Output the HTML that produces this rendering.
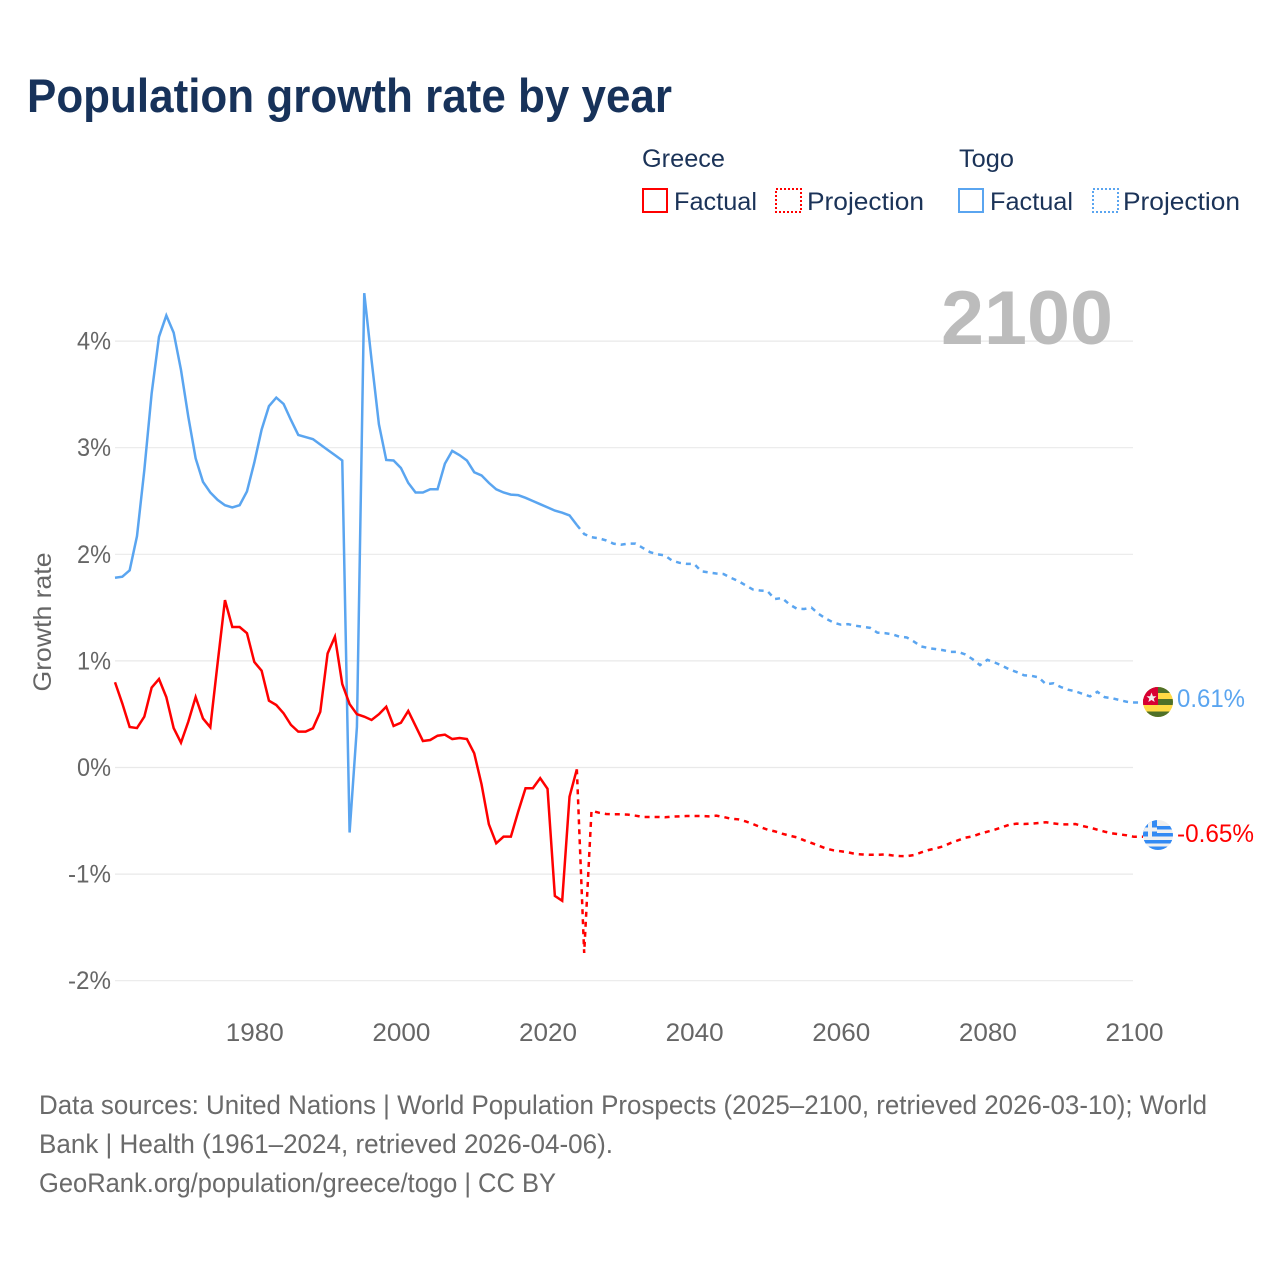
<!DOCTYPE html>
<html lang="en">
<head>
<meta charset="utf-8">
<title>Population growth rate by year</title>
<style>
html,body{margin:0;padding:0;background:#fff;width:1280px;height:1280px;overflow:hidden}
svg{display:block}
text{font-family:"Liberation Sans",sans-serif}
</style>
</head>
<body>
<svg id="chart" xmlns="http://www.w3.org/2000/svg" width="1280" height="1280" viewBox="0 0 1280 1280">
  <rect x="0" y="0" width="1280" height="1280" fill="#ffffff"/>
  <text x="27" y="112" font-size="47" font-weight="700" fill="#17325a" textLength="645" lengthAdjust="spacingAndGlyphs">Population growth rate by year</text>

  <g font-size="25" fill="#1b3358">
    <text x="642" y="167" textLength="83" lengthAdjust="spacingAndGlyphs">Greece</text>
    <text x="959" y="167" textLength="55" lengthAdjust="spacingAndGlyphs">Togo</text>
    <g>
      <rect x="643" y="189" width="24" height="23" fill="none" stroke="#ff0000" stroke-width="2"/>
      <text x="674" y="210" textLength="83" lengthAdjust="spacingAndGlyphs">Factual</text>
    </g>
    <g>
      <rect x="776" y="189" width="25" height="23" fill="none" stroke="#ff0000" stroke-width="2" stroke-dasharray="2 2"/>
      <text x="807" y="210" textLength="117" lengthAdjust="spacingAndGlyphs">Projection</text>
    </g>
    <g>
      <rect x="959" y="189" width="24" height="23" fill="none" stroke="#5aa5f0" stroke-width="2"/>
      <text x="990" y="210" textLength="83" lengthAdjust="spacingAndGlyphs">Factual</text>
    </g>
    <g>
      <rect x="1093" y="189" width="25" height="23" fill="none" stroke="#5aa5f0" stroke-width="2" stroke-dasharray="2 2"/>
      <text x="1123" y="210" textLength="117" lengthAdjust="spacingAndGlyphs">Projection</text>
    </g>
  </g>

  <g id="grid"></g>
  <g id="yticks" font-size="25" fill="#666666"></g>
  <g id="xticks" font-size="25" fill="#666666"></g>
  <text x="51" y="622" font-size="25" fill="#666666" text-anchor="middle" transform="rotate(-90 51 622)" textLength="139" lengthAdjust="spacingAndGlyphs">Growth rate</text>
  <text x="941" y="344" font-size="76" font-weight="700" fill="#bcbcbc" textLength="172" lengthAdjust="spacingAndGlyphs">2100</text>

  <g id="series"></g>

  <g transform="translate(1158 702)">
    <clipPath id="clip-togo"><circle cx="0" cy="0" r="15"/></clipPath>
    <g clip-path="url(#clip-togo)">
      <rect x="-15" y="-15" width="30" height="30" fill="#ffda44"/>
      <rect x="-15" y="-15" width="30" height="6" fill="#4f7028"/>
      <rect x="-15" y="-3" width="30" height="6" fill="#4f7028"/>
      <rect x="-15" y="9.5" width="30" height="6" fill="#4f7028"/>
      <rect x="-15" y="-15" width="15" height="18" fill="#d80033"/>
      <polygon points="-6.5,-9.5 -5.1,-5.8 -1.5,-5.8 -4.3,-3.4 -3.3,0 -6.5,-2 -9.7,0 -8.7,-3.4 -11.5,-5.8 -7.9,-5.8" fill="#f0f0f0"/>
    </g>
  </g>
  <g transform="translate(1158 835)">
    <clipPath id="clip-greece"><circle cx="0" cy="0" r="15"/></clipPath>
    <g clip-path="url(#clip-greece)">
      <rect x="-15" y="-15" width="30" height="30" fill="#f0f0f0"/>
      <rect x="-15" y="-9" width="30" height="3.5" fill="#338af3"/>
      <rect x="-15" y="-2" width="30" height="3.5" fill="#338af3"/>
      <rect x="-15" y="5" width="30" height="3.5" fill="#338af3"/>
      <rect x="-15" y="11.5" width="30" height="3.5" fill="#338af3"/>
      <rect x="-15" y="-15" width="14" height="16.5" fill="#338af3"/>
      <rect x="-10" y="-15" width="4" height="16.5" fill="#f0f0f0"/>
      <rect x="-15" y="-7.5" width="14" height="4" fill="#f0f0f0"/>
    </g>
  </g>
  <text id="label-togo" x="1177" y="707" font-size="25" fill="#5aa5f0" textLength="68" lengthAdjust="spacingAndGlyphs">0.61%</text>
  <text id="label-greece" x="1177" y="842" font-size="25" fill="#ff0000" textLength="77" lengthAdjust="spacingAndGlyphs">-0.65%</text>

  <g font-size="26.5" fill="#6a6a6a">
    <text x="39" y="1114" textLength="1168" lengthAdjust="spacingAndGlyphs">Data sources: United Nations | World Population Prospects (2025–2100, retrieved 2026-03-10); World</text>
    <text x="39" y="1153" textLength="574" lengthAdjust="spacingAndGlyphs">Bank | Health (1961–2024, retrieved 2026-04-06).</text>
    <text x="39" y="1192" textLength="517" lengthAdjust="spacingAndGlyphs">GeoRank.org/population/greece/togo | CC BY</text>
  </g>
</svg>

<script>
const factualStartYear = 1961;
const projectionStartYear = 2024;
const xTickYears = [1980, 2000, 2020, 2040, 2060, 2080, 2100];
const yTickValues = [4, 3, 2, 1, 0, -1, -2];
const yTickLabels = ["4%", "3%", "2%", "1%", "0%", "-1%", "-2%"];

const togoFactual = [1.78,1.79,1.85,2.17,2.79,3.51,4.04,4.24,4.08,3.73,3.29,2.90,2.68,2.58,2.51,2.46,2.44,2.46,2.59,2.86,3.17,3.39,3.47,3.41,3.26,3.12,3.10,3.08,3.03,2.98,2.93,2.88,-0.61,0.38,4.45,3.82,3.22,2.885,2.88,2.81,2.67,2.58,2.58,2.61,2.61,2.85,2.97,2.93,2.88,2.77,2.74,2.67,2.61,2.58,2.56,2.555,2.53,2.50,2.47,2.44,2.41,2.39,2.365,2.275];

const togoProjection = [2.275,2.19,2.16,2.15,2.13,2.10,2.09,2.10,2.10,2.06,2.02,2.00,1.99,1.94,1.92,1.91,1.91,1.84,1.83,1.82,1.815,1.78,1.75,1.71,1.67,1.66,1.655,1.58,1.59,1.53,1.49,1.487,1.50,1.44,1.395,1.36,1.34,1.345,1.33,1.32,1.31,1.265,1.26,1.25,1.227,1.22,1.18,1.135,1.12,1.11,1.10,1.085,1.085,1.06,1.015,0.96,1.01,0.985,0.955,0.92,0.895,0.865,0.86,0.845,0.78,0.79,0.755,0.73,0.715,0.69,0.667,0.71,0.66,0.65,0.633,0.617,0.61];

const greeceFactual = [0.80,0.60,0.38,0.37,0.477,0.75,0.83,0.66,0.37,0.233,0.43,0.66,0.46,0.377,0.98,1.57,1.318,1.318,1.26,0.99,0.908,0.627,0.586,0.508,0.40,0.336,0.336,0.368,0.523,1.07,1.227,0.783,0.595,0.50,0.477,0.446,0.50,0.57,0.39,0.42,0.53,0.39,0.249,0.258,0.298,0.308,0.267,0.277,0.267,0.133,-0.158,-0.533,-0.711,-0.649,-0.649,-0.414,-0.195,-0.195,-0.10,-0.20,-1.205,-1.25,-0.274,-0.017];

const greeceProjection = [-0.017,-1.74,-0.405,-0.424,-0.436,-0.439,-0.439,-0.442,-0.452,-0.464,-0.464,-0.464,-0.467,-0.461,-0.458,-0.455,-0.455,-0.455,-0.458,-0.452,-0.464,-0.48,-0.486,-0.505,-0.53,-0.558,-0.583,-0.599,-0.621,-0.639,-0.655,-0.683,-0.708,-0.733,-0.761,-0.777,-0.786,-0.796,-0.811,-0.816,-0.819,-0.819,-0.815,-0.824,-0.83,-0.832,-0.821,-0.796,-0.774,-0.758,-0.739,-0.708,-0.683,-0.658,-0.646,-0.621,-0.602,-0.583,-0.561,-0.536,-0.527,-0.53,-0.527,-0.521,-0.514,-0.524,-0.533,-0.533,-0.53,-0.549,-0.564,-0.583,-0.602,-0.618,-0.627,-0.636,-0.65];

const plotLeft = 115, plotRight = 1134, leaderEnd = 1143;
const xScale = function (year) { return plotLeft + (year - 1961) * (plotRight - plotLeft) / (2100 - 1961); };
const yScale = function (v) { return 767.5 - v * 106.6; };
const NS = "http://www.w3.org/2000/svg";
const gridLayer = document.getElementById("grid");
const yTickLayer = document.getElementById("yticks");
const xTickLayer = document.getElementById("xticks");
const seriesLayer = document.getElementById("series");

yTickValues.forEach(function (v, i) {
  const line = document.createElementNS(NS, "line");
  
  
  line.setAttribute("x1", plotLeft);
  line.setAttribute("x2", plotRight - 1);
  line.setAttribute("y1", yScale(v));
  line.setAttribute("y2", yScale(v));
  line.setAttribute("stroke", "#e9e9e9");
  line.setAttribute("stroke-width", "1.2");
  gridLayer.appendChild(line);

  const t = document.createElementNS(NS, "text");
  
  
  t.setAttribute("x", 111);
  t.setAttribute("y", yScale(v) + 8.5);
  t.setAttribute("text-anchor", "end");
  t.setAttribute("textLength", yTickLabels[i].length > 2 ? 43 : 34);
  t.setAttribute("lengthAdjust", "spacingAndGlyphs");
  t.textContent = yTickLabels[i];
  yTickLayer.appendChild(t);
});

xTickYears.forEach(function (year) {
  const t = document.createElementNS(NS, "text");
  
  
  t.setAttribute("x", xScale(year) + 0.5);
  t.setAttribute("y", 1041);
  t.setAttribute("text-anchor", "middle");
  t.setAttribute("textLength", 58);
  t.setAttribute("lengthAdjust", "spacingAndGlyphs");
  t.textContent = String(year);
  xTickLayer.appendChild(t);
});

function linePath(values, startYear, leader) {
  let d = values.map(function (v, i) {
    return (i ? "L" : "M") + xScale(startYear + i).toFixed(2) + " " + yScale(v).toFixed(2);
  }).join(" ");
  if (leader) {
    d += " L" + leaderEnd + " " + yScale(values[values.length - 1]).toFixed(2);
  }
  return d;
}

const togoFactualPath = document.createElementNS(NS, "path");


togoFactualPath.setAttribute("d", linePath(togoFactual, factualStartYear, false));
togoFactualPath.setAttribute("fill", "none");
togoFactualPath.setAttribute("stroke", "#5aa5f0");
togoFactualPath.setAttribute("stroke-width", "2.5");
seriesLayer.appendChild(togoFactualPath);

const togoProjectionPath = document.createElementNS(NS, "path");


togoProjectionPath.setAttribute("d", linePath(togoProjection, projectionStartYear, true));
togoProjectionPath.setAttribute("fill", "none");
togoProjectionPath.setAttribute("stroke", "#5aa5f0");
togoProjectionPath.setAttribute("stroke-width", "2.5");
togoProjectionPath.setAttribute("stroke-dasharray", "5 5");
seriesLayer.appendChild(togoProjectionPath);

const greeceFactualPath = document.createElementNS(NS, "path");


greeceFactualPath.setAttribute("d", linePath(greeceFactual, factualStartYear, false));
greeceFactualPath.setAttribute("fill", "none");
greeceFactualPath.setAttribute("stroke", "#ff0000");
greeceFactualPath.setAttribute("stroke-width", "2.5");
seriesLayer.appendChild(greeceFactualPath);

const greeceProjectionPath = document.createElementNS(NS, "path");


greeceProjectionPath.setAttribute("d", linePath(greeceProjection, projectionStartYear, true));
greeceProjectionPath.setAttribute("fill", "none");
greeceProjectionPath.setAttribute("stroke", "#ff0000");
greeceProjectionPath.setAttribute("stroke-width", "2.5");
greeceProjectionPath.setAttribute("stroke-dasharray", "5 5");
seriesLayer.appendChild(greeceProjectionPath);
</script>
</body>
</html>
